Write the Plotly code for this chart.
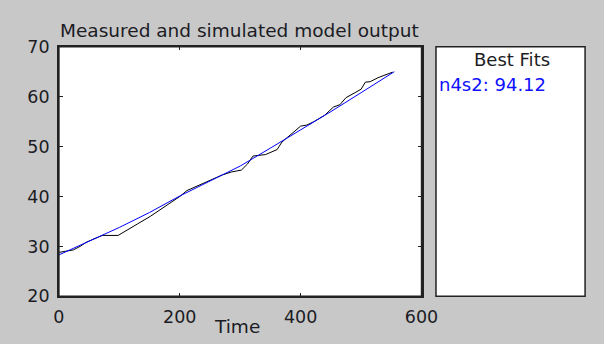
import plotly.graph_objects as go

# Measured output (black)
meas_t = [0, 10, 24, 35, 45, 56, 65, 72, 98, 110, 130, 151, 170, 190, 200, 212, 223,
          240, 255, 270, 285, 302, 312, 321, 342, 355, 361, 369, 380, 395, 400, 410,
          422, 440, 454, 465, 475, 490, 500, 507, 515, 528, 540, 552]
meas_y = [28.8, 29.0, 29.3, 30.0, 30.8, 31.4, 31.8, 32.2, 32.2, 33.0, 34.5, 36.0, 37.5,
          39.2, 40.0, 41.2, 41.8, 42.7, 43.4, 44.3, 44.9, 45.3, 46.5, 48.1, 48.4, 49.0,
          49.4, 50.9, 52.0, 53.5, 54.1, 54.3, 55.0, 56.3, 57.9, 58.4, 59.8, 60.8, 61.5,
          62.9, 63.0, 63.8, 64.4, 64.9]

# Simulated model output n4s2 (blue)
sim_t = [0, 50, 100, 150, 200, 250, 300, 350, 400, 450, 500, 555]
sim_y = [28.3, 31.0, 33.8, 36.8, 40.1, 43.1, 46.1, 49.7, 53.3, 57.0, 60.8, 65.0]

x_ticks = [0, 200, 400, 600]
y_ticks = [20, 30, 40, 50, 60, 70]

title_text = "Measured and simulated model output"
xlabel_text = "Time"
fits_title = "Best Fits"
fit_label = "n4s2: 94.12"

W, H = 604, 344
def px(x):
    return x / W
def py(y):
    return 1 - y / H

FONT = "DejaVu Sans"
TXT = "#1c1c24"
GRAY = "#c8c8c8"
EDGE = "#222222"

fig = go.Figure()
fig.add_trace(go.Scatter(x=meas_t, y=meas_y, mode="lines",
                         line=dict(color="#000000", width=1), showlegend=False))
fig.add_trace(go.Scatter(x=sim_t, y=sim_y, mode="lines",
                         line=dict(color="#0000ff", width=1), showlegend=False))

axis_common = dict(showline=True, linecolor=EDGE, linewidth=1.5, mirror="ticks",
                   showgrid=False, zeroline=False, ticks="inside", ticklen=4,
                   tickwidth=1, tickcolor=EDGE, ticklabelstandoff=4,
                   tickfont=dict(family=FONT, size=17.5, color=TXT))

fig.update_layout(
    width=W, height=H,
    margin=dict(l=0, r=0, t=0, b=0),
    paper_bgcolor=GRAY, plot_bgcolor="white",
    xaxis=dict(domain=[px(55), px(432)], range=[0, 600], tickvals=x_ticks,
               anchor="y", **axis_common),
    yaxis=dict(domain=[py(304), py(39)], range=[20, 70], tickvals=y_ticks,
               anchor="x", **axis_common),
    shapes=[
        dict(type="rect", xref="paper", yref="paper", x0=px(447), x1=px(602),
             y0=py(304), y1=py(39), fillcolor="white",
             line=dict(color=EDGE, width=1.5), layer="below"),
        dict(type="rect", xref="paper", yref="paper", x0=px(55), x1=px(432),
             y0=py(304), y1=py(39), line=dict(color=EDGE, width=1.5), layer="above"),
    ],
    annotations=[
        dict(text=title_text, xref="paper", yref="paper", x=px(54), y=py(22),
             xanchor="left", yanchor="middle", showarrow=False,
             font=dict(family=FONT, size=18.5, color=TXT)),
        dict(text=xlabel_text, xref="paper", yref="paper", x=px(240), y=py(336),
             xanchor="center", yanchor="middle", showarrow=False,
             font=dict(family=FONT, size=18.5, color=TXT)),
        dict(text=fits_title, xref="paper", yref="paper", x=px(526), y=py(53),
             xanchor="center", yanchor="middle", showarrow=False,
             font=dict(family=FONT, size=18, color=TXT)),
        dict(text=fit_label, xref="paper", yref="paper", x=px(448), y=py(79),
             xanchor="left", yanchor="middle", showarrow=False,
             font=dict(family=FONT, size=18, color="#1010ff")),
    ],
)

fig.write_html("out.html",
               post_script="document.body.style.margin='0';"
                           "document.body.style.overflow='hidden';")
